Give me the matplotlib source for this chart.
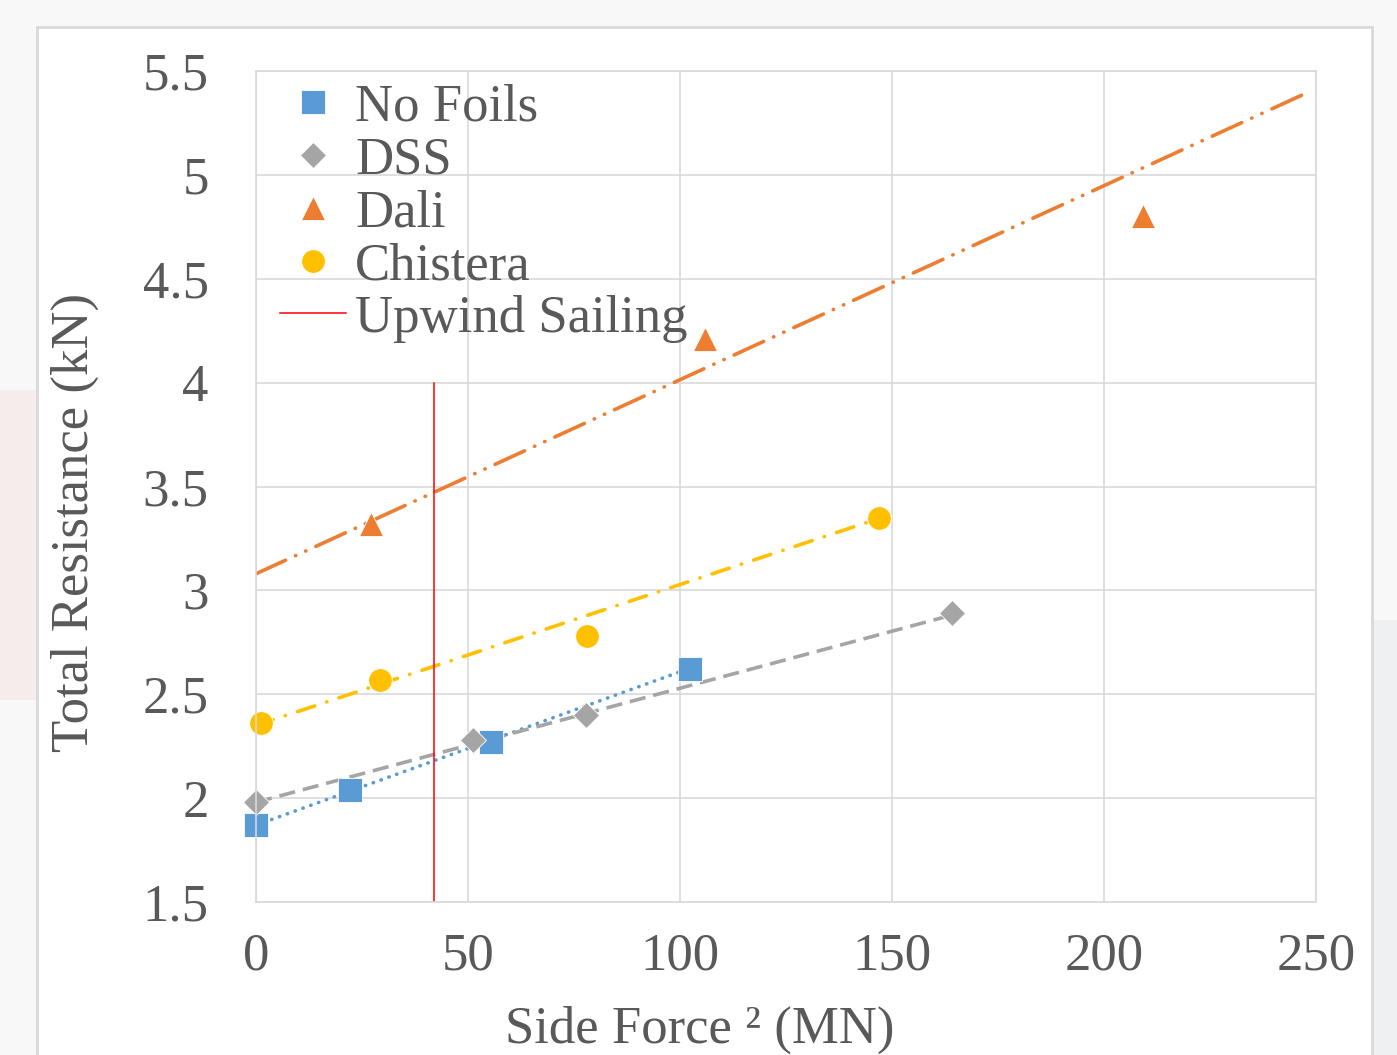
import matplotlib.pyplot as plt
from matplotlib.patches import Rectangle
import numpy as np

plt.rcParams['font.family'] = ['Liberation Serif', 'DejaVu Serif']

# measured points
nofoils_x = [0, 22.2, 55.4, 102.4]
nofoils_y = [1.87, 2.04, 2.27, 2.62]
dss_x = [0, 51.2, 77.8, 164.2]
dss_y = [1.98, 2.28, 2.40, 2.89]
dali_x = [27.1, 105.9, 209.2]
dali_y = [3.32, 4.21, 4.80]
chistera_x = [1.2, 29.2, 78.1, 146.9]
chistera_y = [2.36, 2.57, 2.78, 3.35]

# trend lines: (x start, x end, intercept, slope)
nofoils_trend = (0, 102.4, 1.87, 0.00738)
dss_trend = (0, 164.2, 1.98, 0.00549)
dali_trend = (0, 247.5, 3.08, 0.00934)
chistera_trend = (0, 146.9, 2.35, 0.00678)

upwind_x = 42.0
upwind_ymax = 4.0

blue, grey, orange, yellow = '#5B9BD5', '#A5A5A5', '#ED7D31', '#FFC000'
txt = '#595959'
fs = 38

fig = plt.figure(figsize=(13.97, 10.55), dpi=100, facecolor='#f8f8f8')
# faint background photo hints
fig.patches.append(Rectangle((0, 1 - 700 / 1055), 0.03, 310 / 1055, transform=fig.transFigure,
                             facecolor='#f6ecec', edgecolor='none', zorder=0))
fig.patches.append(Rectangle((0.975, 0), 0.025, 1 - 620 / 1055, transform=fig.transFigure,
                             facecolor='#eef0f1', edgecolor='none', zorder=0))
fig.patches.append(Rectangle((37 / 1397, -0.01), (1372 - 37) / 1397, 1 - 27 / 1055 + 0.01,
                             transform=fig.transFigure, facecolor='white',
                             edgecolor='#d9d9d9', lw=2, zorder=1))

ax = fig.add_axes([256 / 1397, 1 - 902 / 1055, (1316 - 256) / 1397, (902 - 71) / 1055])
ax.set_zorder(2)
ax.set_facecolor('none')


def trend(t):
    x0, x1, b, m = t
    xs = np.array([x0, x1])
    return xs, b + m * xs


x, y = trend(nofoils_trend)
ax.plot(x, y, color=blue, lw=2.6, linestyle=(0, (0.1, 2.2)), dash_capstyle='round')
x, y = trend(dss_trend)
ax.plot(x, y, color=grey, lw=2.6, linestyle=(0, (4.5, 2.2)))
x, y = trend(dali_trend)
ax.plot(x, y, color=orange, lw=2.6, linestyle=(0, (9, 3, 0.1, 3, 0.1, 3)), dash_capstyle='round')
x, y = trend(chistera_trend)
ax.plot(x, y, color=yellow, lw=2.6, linestyle=(0, (5, 3.5, 0.1, 3.5)), dash_capstyle='round')

ax.plot(nofoils_x, nofoils_y, 's', color=blue, ms=17, mec='white', mew=0.6, label='No Foils', clip_on=False)
ax.plot(dss_x, dss_y, 'D', color=grey, ms=13, mec='white', mew=0.6, label='DSS', clip_on=False)
ax.plot(dali_x, dali_y, '^', color=orange, ms=17, mec='white', mew=0.6, label='Dali', clip_on=False)
ax.plot(chistera_x, chistera_y, 'o', color=yellow, ms=17, mec='white', mew=0.6, label='Chistera', clip_on=False)
ax.plot([upwind_x, upwind_x], [1.5, upwind_ymax], color='#ff0000', lw=1.1, label='Upwind Sailing')

ax.set_xlim(0, 250)
ax.set_ylim(1.5, 5.5)
ax.set_xticks(np.arange(0, 251, 50))
ax.set_yticks(np.arange(1.5, 5.51, 0.5))
ax.set_yticklabels(['%g' % v for v in np.arange(1.5, 5.51, 0.5)])
ax.grid(True, color='#d9d9d9', lw=1.2)
ax.set_axisbelow(True)
for s in ax.spines.values():
    s.set_color('#d9d9d9')
    s.set_linewidth(1.2)
ax.tick_params(length=0, labelsize=fs, colors=txt)
ax.tick_params(axis='y', pad=34)
ax.tick_params(axis='x', pad=22)

ax.set_xlabel('Side Force ² (MN)', fontsize=fs, color=txt)
ax.xaxis.set_label_coords(0.419, -0.154)
ax.xaxis.label.set_va('center')
ax.set_ylabel('Total Resistance (kN)', fontsize=fs, color=txt)
ax.yaxis.set_label_coords(-0.171, 0.457)
ax.yaxis.label.set_va('center')

leg = ax.legend(loc='upper left', bbox_to_anchor=(0.003, 1.01), frameon=False, fontsize=fs,
                labelcolor=txt, handlelength=1.25, handletextpad=0.17, labelspacing=0.09,
                borderaxespad=0.0, markerscale=1.0)

fig.savefig('out.png', dpi=100, facecolor=fig.get_facecolor())
